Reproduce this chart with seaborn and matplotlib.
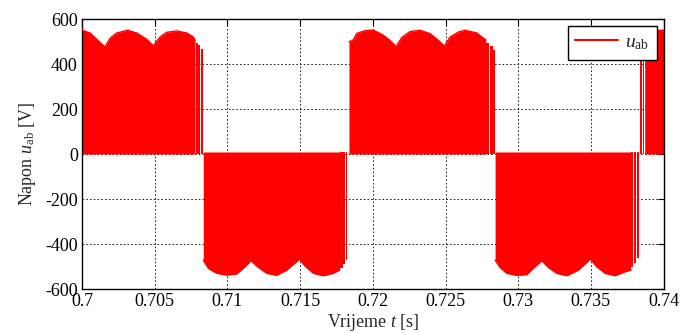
import matplotlib
matplotlib.use("Agg")
import matplotlib.pyplot as plt
import numpy as np
import pandas as pd
import seaborn as sns

# ---- data ----
# envelope of each half-cycle block (time [s], voltage [V])
pos1_t = [0.70000, 0.70055, 0.70101, 0.70158, 0.70193, 0.70239, 0.70314, 0.70376,
          0.70445, 0.70490, 0.70536, 0.70583, 0.70651, 0.70720, 0.70766, 0.70777]
pos1_u = [551, 538, 510, 476, 515, 538, 550, 538, 510, 481, 520, 541, 547, 538, 520, 507]

neg1_t = [0.70834, 0.70869, 0.70926, 0.70995, 0.71064, 0.71121, 0.71162, 0.71202,
          0.71270, 0.71339, 0.71408, 0.71495, 0.71534, 0.71591, 0.71660, 0.71728, 0.71772]
neg1_u = [-471, -508, -530, -538, -533, -501, -474, -498, -530, -539, -516, -467,
          -498, -530, -541, -530, -516]

pos2_t = [0.71836, 0.71866, 0.71889, 0.71946, 0.72004, 0.72072, 0.72118, 0.72160,
          0.72199, 0.72256, 0.72325, 0.72394, 0.72451, 0.72492, 0.72531, 0.72588,
          0.72634, 0.72715, 0.72777]
pos2_u = [499, 507, 536, 548, 551, 528, 505, 477, 518, 544, 550, 535, 505, 480,
          520, 542, 550, 538, 507]

neg2_t = [0.72841, 0.72875, 0.72921, 0.72990, 0.73059, 0.73116, 0.73162, 0.73207,
          0.73265, 0.73334, 0.73414, 0.73496, 0.73540, 0.73597, 0.73666, 0.73735, 0.73774]
neg2_u = [-471, -504, -530, -539, -536, -501, -474, -504, -530, -541, -516, -467,
          -501, -530, -541, -523, -516]

pos3_t = [0.73870, 0.73930, 0.74000]
pos3_u = [540, 548, 551]

# isolated switching pulses near the polarity changes
pulse_t0 = [0.70782, 0.70800, 0.70816, 0.71777, 0.71797, 0.71814,
            0.72781, 0.72804, 0.72829, 0.73778, 0.73796, 0.73814, 0.73840, 0.73856]
pulse_t1 = [0.70796, 0.70812, 0.70834, 0.71795, 0.71811, 0.71825,
            0.72800, 0.72825, 0.72841, 0.73792, 0.73810, 0.73831, 0.73852, 0.73866]
pulse_u = [495, 484, 467, -505, -490, -470,
           495, 480, 462, -501, -486, -464, 500, 520]

x_ticks = [0.7, 0.705, 0.71, 0.715, 0.72, 0.725, 0.73, 0.735, 0.74]
x_tick_labels = ["0.7", "0.705", "0.71", "0.715", "0.72", "0.725", "0.73", "0.735", "0.74"]
y_ticks = [-600, -400, -200, 0, 200, 400, 600]
y_tick_labels = ["-600", "-400", "-200", "0", "200", "400", "600"]

# ---- style ----
sns.set_style("white")
plt.rcParams["font.family"] = ["Liberation Serif", "DejaVu Serif"]
plt.rcParams["mathtext.fontset"] = "custom"
plt.rcParams["mathtext.rm"] = "Liberation Serif"
plt.rcParams["mathtext.it"] = "Liberation Serif:italic"
plt.rcParams["axes.unicode_minus"] = False

fig = plt.figure(figsize=(6.8, 3.33), dpi=100)
ax = fig.add_axes([0.1206, 0.1321, 0.8553, 0.8108])

RED = "#ff0000"
blocks = [(pos1_t, pos1_u), (neg1_t, neg1_u), (pos2_t, pos2_u),
          (neg2_t, neg2_u), (pos3_t, pos3_u)]
for i, (t, u) in enumerate(blocks):
    t = np.asarray(t)
    u = np.asarray(u, dtype=float)
    base = 0.0 if u.mean() > 0 else 9.0
    ax.fill_between(t, base, u, color=RED, lw=0, zorder=2)
    df = pd.DataFrame({"t": t, "u": u})
    sns.lineplot(data=df, x="t", y="u", color=RED, lw=1.0, ax=ax, zorder=3,
                 label="$u_{\\mathrm{ab}}$" if i == 0 else None, legend=i == 0)

for t0, t1, u in zip(pulse_t0, pulse_t1, pulse_u):
    base = 0.0 if u > 0 else 9.0
    ax.fill_between([t0, t1], [base, base], [u, u], color=RED, lw=0, zorder=2)

ax.set_xlim(0.7, 0.74)
ax.set_ylim(-600, 600)
ax.set_xticks(x_ticks)
ax.set_xticklabels(x_tick_labels)
ax.set_yticks(y_ticks)
ax.set_yticklabels(y_tick_labels)
ax.tick_params(direction="in", top=True, right=True, length=4, width=0.8,
               labelsize=13, pad=3, colors="black")
ax.set_axisbelow(True)
ax.grid(True, color="black", linestyle=(0, (2, 2.5)), linewidth=0.6)
for s in ax.spines.values():
    s.set_color("black")
    s.set_linewidth(1.0)

ax.set_xlabel("Vrijeme $t$ [s]", fontsize=13, labelpad=1)
ax.set_ylabel("Napon $u_{\\mathrm{ab}}$ [V]", fontsize=13, labelpad=5)

leg = ax.legend(loc="upper right", frameon=True, fancybox=False, edgecolor="black",
                framealpha=1, handlelength=2.2, handletextpad=0.35,
                borderaxespad=0.35, fontsize=14, borderpad=0.4)
leg.get_frame().set_linewidth(1.0)
for line in leg.get_lines():
    line.set_linewidth(1.5)

fig.savefig("out.png", dpi=100)
